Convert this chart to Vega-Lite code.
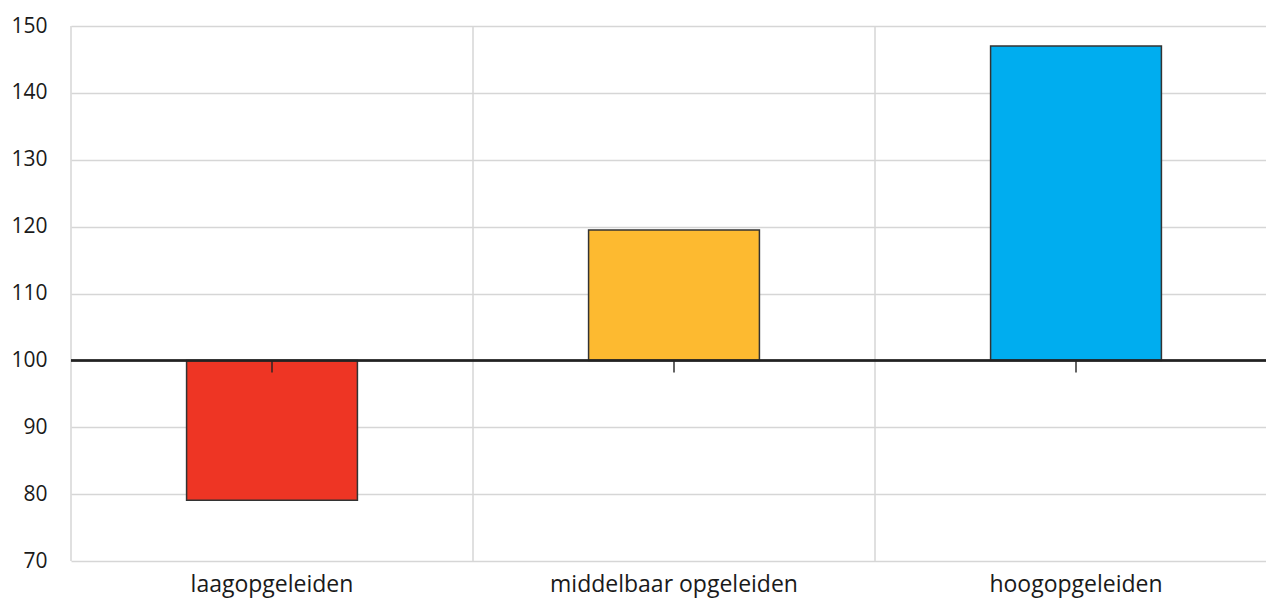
{
  "$schema": "https://vega.github.io/schema/vega-lite/v6.json",
  "width": 1195,
  "height": 535,
  "autosize": {"type": "none"},
  "padding": {"left": 71, "top": 26, "right": 0, "bottom": 47},
  "background": "white",
  "config": {
    "view": {"stroke": null},
    "font": "Open Sans",
    "axis": {"labelFont": "Open Sans", "labelColor": "#1a1a1a"}
  },
  "data": {
    "values": [
      {"cat": "laagopgeleiden", "value": 79.1},
      {"cat": "middelbaar opgeleiden", "value": 119.5},
      {"cat": "hoogopgeleiden", "value": 147.0}
    ]
  },
  "encoding": {
    "x": {
      "field": "cat",
      "type": "nominal",
      "sort": null,
      "scale": {"range": [0, 1206], "paddingInner": 0, "paddingOuter": 0},
      "axis": {
        "title": null,
        "labelAngle": 0,
        "domain": false,
        "ticks": false,
        "grid": false,
        "labelFontSize": 23,
        "labelPadding": 12,
        "labelLimit": 0,
        "labelColor": "#1a1a1a"
      }
    }
  },
  "layer": [
    {
      "mark": {"type": "rule", "color": "#d6d6d6", "strokeWidth": 1.5},
      "encoding": {
        "x": {"field": "cat", "type": "nominal", "sort": null, "bandPosition": 0},
        "y": {"datum": 150, "type": "quantitative"},
        "y2": {"datum": 70}
      }
    },
    {
      "mark": {"type": "bar", "width": {"band": 0.425}, "stroke": "#333333", "strokeWidth": 1.5},
      "encoding": {
        "y": {
          "field": "value",
          "type": "quantitative",
          "scale": {"domain": [70, 150], "nice": false, "zero": false},
          "axis": {
            "title": null,
            "values": [70, 80, 90, 100, 110, 120, 130, 140, 150],
            "domain": false,
            "ticks": false,
            "grid": true,
            "gridColor": "#d6d6d6",
            "gridWidth": 1.5,
            "labelFontSize": 21,
            "labelPadding": 24,
            "labelColor": "#1a1a1a"
          }
        },
        "y2": {"datum": 100},
        "fill": {
          "field": "cat",
          "type": "nominal",
          "sort": null,
          "scale": {"range": ["#EE3524", "#FDBA30", "#00ADEF"]},
          "legend": null
        }
      }
    },
    {
      "mark": {"type": "rule", "color": "#222222", "strokeWidth": 2},
      "encoding": {
        "x": {"value": 0},
        "x2": {"value": 1206},
        "y": {"datum": 100, "type": "quantitative"}
      }
    },
    {
      "mark": {"type": "tick", "orient": "vertical", "size": 12, "yOffset": 6, "color": "#222222", "thickness": 2},
      "encoding": {
        "y": {"datum": 100, "type": "quantitative"}
      }
    }
  ]
}
